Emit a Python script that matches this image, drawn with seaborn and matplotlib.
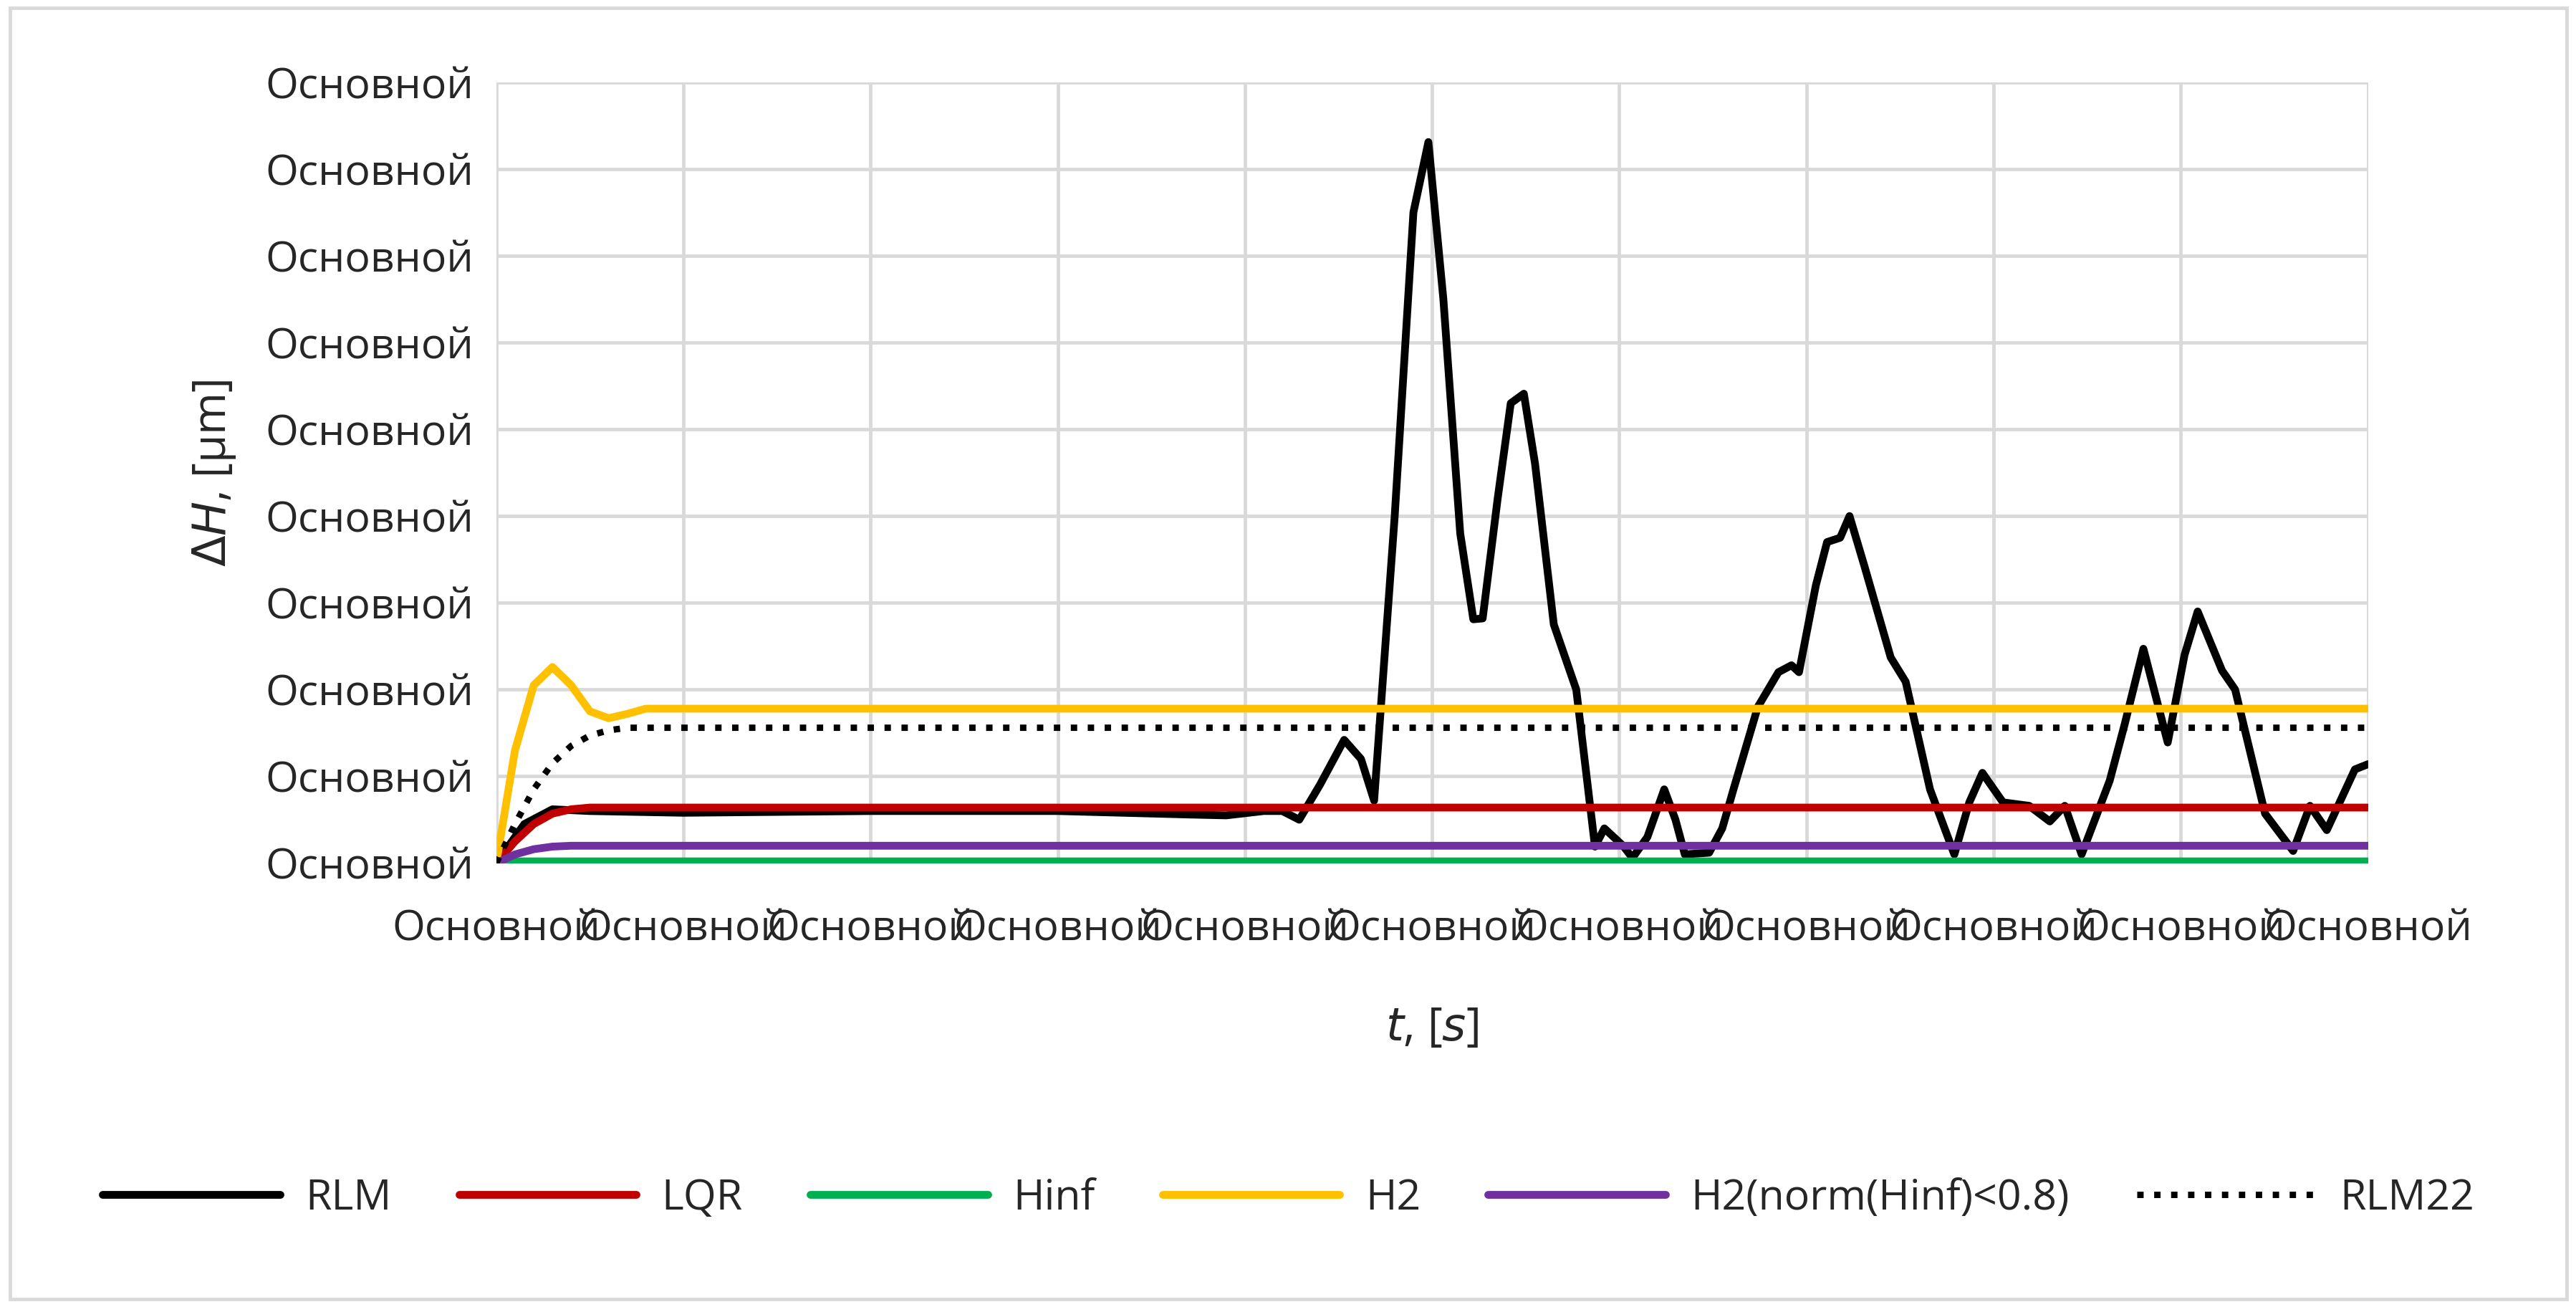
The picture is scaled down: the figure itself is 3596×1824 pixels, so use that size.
import numpy as np
import pandas as pd
import seaborn as sns
import matplotlib.pyplot as plt
from matplotlib.patches import Rectangle

rlm_t = [0, 0.15, 0.3, 0.5, 1.0, 2.0, 3.0, 3.7, 3.9, 4.1, 4.2, 4.29, 4.4, 4.53, 4.62, 4.69, 4.8, 4.9, 4.98, 5.06, 5.15, 5.22, 5.27, 5.35, 5.42, 5.49, 5.55, 5.65, 5.77, 5.87, 5.92, 5.97, 6.02, 6.07, 6.15, 6.24, 6.3, 6.35, 6.48, 6.55, 6.61, 6.74, 6.85, 6.92, 6.96, 7.05, 7.11, 7.18, 7.23, 7.31, 7.45, 7.53, 7.66, 7.79, 7.87, 7.94, 8.05, 8.19, 8.30, 8.38, 8.47, 8.62, 8.70, 8.80, 8.93, 9.02, 9.09, 9.22, 9.29, 9.45, 9.60, 9.69, 9.78, 9.93, 10.0]
rlm_v = [0, 0.45, 0.62, 0.6, 0.58, 0.6, 0.6, 0.56, 0.55, 0.6, 0.6, 0.5, 0.9, 1.42, 1.2, 0.72, 4.0, 7.5, 8.31, 6.5, 3.8, 2.81, 2.82, 4.2, 5.3, 5.41, 4.6, 2.75, 2.0, 0.19, 0.4, 0.3, 0.2, 0.06, 0.3, 0.85, 0.5, 0.1, 0.12, 0.4, 0.85, 1.8, 2.2, 2.28, 2.2, 3.2, 3.7, 3.75, 4.0, 3.42, 2.37, 2.09, 0.85, 0.1, 0.7, 1.04, 0.7, 0.66, 0.48, 0.66, 0.1, 0.95, 1.6, 2.47, 1.39, 2.4, 2.9, 2.22, 2.0, 0.57, 0.14, 0.66, 0.38, 1.08, 1.14]
ctl_t = [0, 0.1, 0.2, 0.3, 0.4, 0.5, 0.6, 0.7, 0.8, 1.0, 1.5, 10.0]
h2_v = [0, 1.3, 2.05, 2.26, 2.05, 1.75, 1.67, 1.72, 1.78, 1.78, 1.78, 1.78]
rlm22_v = [0, 0.45, 0.85, 1.15, 1.35, 1.47, 1.53, 1.56, 1.56, 1.56, 1.56, 1.56]
lqr_v = [0, 0.25, 0.45, 0.57, 0.62, 0.64, 0.64, 0.64, 0.64, 0.64, 0.64, 0.64]
hinf_v = [0, 0.02, 0.02, 0.02, 0.02, 0.02, 0.02, 0.02, 0.02, 0.02, 0.02, 0.02]
h2n_v = [0, 0.1, 0.16, 0.19, 0.2, 0.2, 0.2, 0.2, 0.2, 0.2, 0.2, 0.2]
series = ["RLM", "LQR", "Hinf", "H2", "H2(norm(Hinf)<0.8)", "RLM22"]
colors = ["#000000", "#C00000", "#00B050", "#FFC000", "#7030A0", "#000000"]
tick_label = "Основной"

sns.set_theme(style="white")
plt.rcParams['font.family'] = ['Open Sans', 'DejaVu Sans']

rows = [(t, v, "RLM") for t, v in zip(rlm_t, rlm_v)]
for name, vals in [("LQR", lqr_v), ("Hinf", hinf_v), ("H2", h2_v), ("H2(norm(Hinf)<0.8)", h2n_v), ("RLM22", rlm22_v)]:
    rows += [(t, v, name) for t, v in zip(ctl_t, vals)]
df = pd.DataFrame(rows, columns=["t", "v", "s"])

fig = plt.figure(figsize=(15.68, 7.952), dpi=229.4)
ax = fig.add_axes([0.1926, 0.3396, 0.7264, 0.5974])
for name, c in zip(series, colors):
    sub = df[df.s == name]
    sns.lineplot(data=sub, x="t", y="v", ax=ax, color=c, lw=3.4 if name != "RLM22" else 2.8,
                 linestyle=":" if name == "RLM22" else "-", label=name)
ax.set_xlim(0, 10)
ax.set_ylim(0, 9)
ax.set_xticks(range(11))
ax.set_yticks(range(10))
ax.set_xticklabels([tick_label] * 11, fontsize=18.5)
ax.set_yticklabels([tick_label] * 10, fontsize=18.5)
ax.tick_params(axis='x', pad=20, length=0)
ax.tick_params(axis='y', pad=10, length=0)
ax.grid(True, color="#D9D9D9", lw=1.5)
for s in ax.spines.values():
    s.set_visible(False)
ax.axhline(0, color="#D9D9D9", lw=1.5, zorder=0)
ax.set_xlabel(r"$t$, [$s$]", fontsize=20, labelpad=24)
ax.set_ylabel(r"$\Delta H$, [µm]", fontsize=20, labelpad=12)
ax.legend(loc="center", bbox_to_anchor=(0.5, 0.083), bbox_transform=fig.transFigure,
          ncol=6, frameon=False, fontsize=18.5, handlelength=4.2, columnspacing=1.6,
          handletextpad=0.6)
fig.patches.append(Rectangle((0.004, 0.006), 0.992, 0.988, transform=fig.transFigure,
                             fill=False, edgecolor="#D9D9D9", lw=1.5))
fig.savefig("out.png", dpi=229.4, facecolor="white")
